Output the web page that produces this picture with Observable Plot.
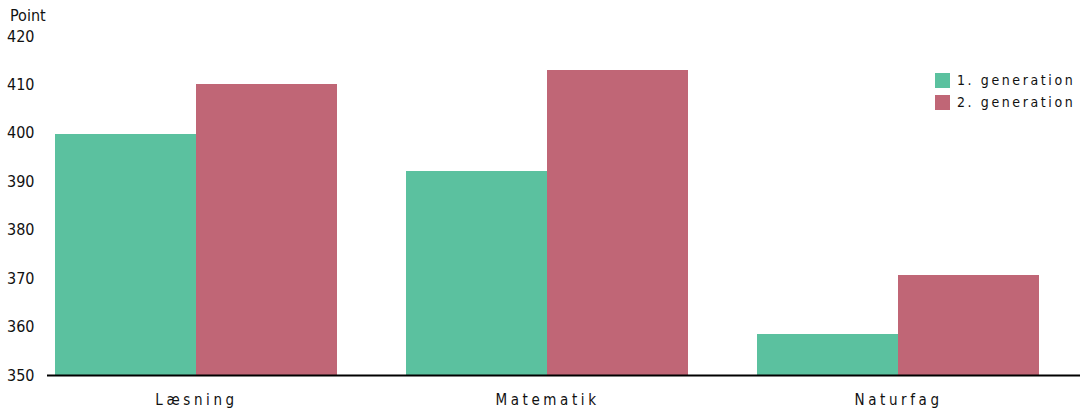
<!DOCTYPE html>
<html>
<head>
<meta charset="utf-8">
<script src="https://cdn.jsdelivr.net/npm/d3@7"></script>
<script src="https://cdn.jsdelivr.net/npm/@observablehq/plot@0.6"></script>
<style>
  html, body { margin: 0; padding: 0; background: #fff; }
  #wrap { position: relative; width: 1080px; height: 409px; font-family: "Liberation Sans Narrow", "Arial Narrow", "DejaVu Sans Condensed", sans-serif; color: #111; }
  #ylabel { position: absolute; left: 10px; top: 6px; font-size: 16px; }
  #legend { position: absolute; left: 935px; top: 69px; font-size: 14px; letter-spacing: 2.6px; white-space: nowrap; width: 145px; }
  #legend .item { display: flex; align-items: center; height: 22px; white-space: nowrap; }
  #legend .sw { width: 15px; height: 15px; margin-right: 7px; flex: none; }
  #chart svg text { font-family: "Liberation Sans Narrow", "Arial Narrow", "DejaVu Sans Condensed", sans-serif; }
  #chart svg [aria-label="x-axis tick label"] text { letter-spacing: 3.6px; }
</style>
</head>
<body>
<div id="wrap">
  <div id="chart"></div>
  <div id="ylabel">Point</div>
  <div id="legend"></div>
</div>
<script>
const categories = ["Læsning", "Matematik", "Naturfag"];
const series = ["1. generation", "2. generation"];
const gen1 = [399.8, 392.1, 358.5];
const gen2 = [410.1, 413.0, 370.6];
const yTicks = [350, 360, 370, 380, 390, 400, 410, 420];
const colors = ["#5bc19f", "#c06676"];

const font = '"Liberation Sans Narrow", "Arial Narrow", "DejaVu Sans Condensed", sans-serif';
const xRange = [55, 1039];
const padInner = 69 / 351;
const bw = d3.scaleBand().domain(categories).range(xRange).paddingInner(padInner).paddingOuter(0).bandwidth();

const data1 = categories.map((c, i) => ({category: c, value: gen1[i], series: series[0]}));
const data2 = categories.map((c, i) => ({category: c, value: gen2[i], series: series[1]}));
const base = yTicks[0];

const plot = Plot.plot({
  width: 1080,
  height: 409,
  marginTop: 36,
  marginBottom: 34,
  marginLeft: 47,
  marginRight: 0,
  style: {fontFamily: font, fontSize: "16px", color: "#111", background: "#fff"},
  x: {domain: categories, range: xRange, paddingInner: padInner, paddingOuter: 0, round: true, axis: null},
  y: {domain: [yTicks[0], yTicks[yTicks.length - 1]], axis: null},
  color: {domain: series, range: colors},
  marks: [
    Plot.barY(data1, {x: "category", y1: () => base, y2: "value", fill: "series", insetRight: bw / 2, shapeRendering: "crispEdges"}),
    Plot.barY(data2, {x: "category", y1: () => base, y2: "value", fill: "series", insetLeft: bw / 2, shapeRendering: "crispEdges"}),
    Plot.ruleY([base], {stroke: "#000", strokeWidth: 2}),
    Plot.axisY(yTicks, {tickSize: 0, tickPadding: 13, label: null, fontSize: 16, fontFamily: font}),
    Plot.axisX(categories, {tickSize: 0, tickPadding: 19, label: null, fontSize: 15, fontFamily: font})
  ]
});
document.getElementById("chart").appendChild(plot);

const legend = document.getElementById("legend");
series.forEach((s, i) => {
  const item = document.createElement("div");
  item.className = "item";
  const sw = document.createElement("div");
  sw.className = "sw";
  sw.style.background = colors[i];
  const t = document.createElement("span");
  t.textContent = s;
  item.appendChild(sw);
  item.appendChild(t);
  legend.appendChild(item);
});
</script>
</body>
</html>
